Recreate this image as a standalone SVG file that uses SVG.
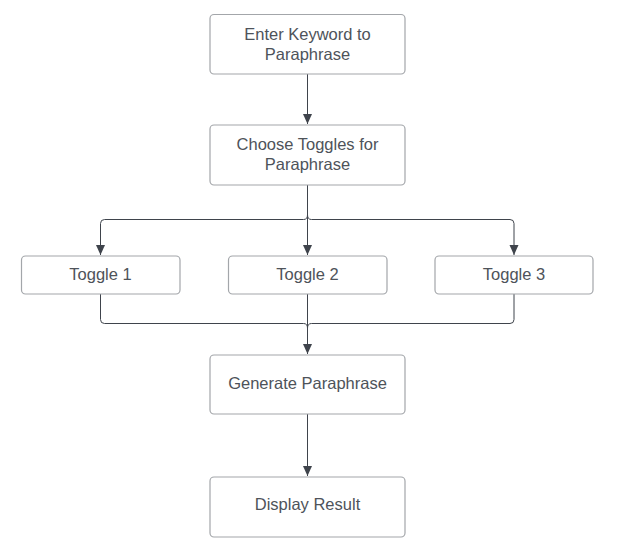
<svg xmlns="http://www.w3.org/2000/svg" width="618" height="549" viewBox="0 0 618 549">
<style>
.box{fill:#ffffff;stroke:#a3a6aa;stroke-width:1.2}
.lbl{font-family:"Liberation Sans",Arial,sans-serif;font-size:16.5px;fill:#4e535a;text-anchor:middle}
.con{fill:none;stroke:#3f444c;stroke-width:1}
</style>
<defs>
<marker id="arr" viewBox="0 0 10 10" refX="10" refY="5" markerWidth="10" markerHeight="10" markerUnits="userSpaceOnUse" orient="auto">
<path d="M0,0.5 L10,5 L0,9.5 Z" fill="#3f444c"/>
</marker>
</defs>
<rect width="618" height="549" fill="#ffffff"/>
<g id="connectors">
<path class="con" d="M307.5,74 V124" marker-end="url(#arr)"/>
<path class="con" d="M307.5,185 V255" marker-end="url(#arr)"/>
<path class="con" d="M307.5,215 Q307.5,219.5 303.5,219.5 H104.5 Q100.5,219.5 100.5,223.5 V255" marker-end="url(#arr)"/>
<path class="con" d="M307.5,215 Q307.5,219.5 311.5,219.5 H510 Q514,219.5 514,223.5 V255" marker-end="url(#arr)"/>
<path class="con" d="M307.5,294 V354" marker-end="url(#arr)"/>
<path class="con" d="M100.5,294 V319.5 Q100.5,323.5 104.5,323.5 H303.5 Q307.5,323.5 307.5,328"/>
<path class="con" d="M514,294 V319.5 Q514,323.5 510,323.5 H311.5 Q307.5,323.5 307.5,328"/>
<path class="con" d="M307.5,414 V476" marker-end="url(#arr)"/>
</g>
<g id="n1"><rect class="box" x="210" y="14.5" width="195" height="59.5" rx="4"/><text class="lbl" x="307.5" y="40">Enter Keyword to</text><text class="lbl" x="307.5" y="60">Paraphrase</text></g>
<g id="n2"><rect class="box" x="210" y="125" width="195" height="60" rx="4"/><text class="lbl" x="307.5" y="150">Choose Toggles for</text><text class="lbl" x="307.5" y="170">Paraphrase</text></g>
<g id="t1"><rect class="box" x="21.5" y="256" width="158.5" height="38" rx="4"/><text class="lbl" x="100.5" y="280">Toggle 1</text></g>
<g id="t2"><rect class="box" x="228.5" y="256" width="158.5" height="38" rx="4"/><text class="lbl" x="307.5" y="280">Toggle 2</text></g>
<g id="t3"><rect class="box" x="435" y="256" width="158" height="38" rx="4"/><text class="lbl" x="514" y="280">Toggle 3</text></g>
<g id="n3"><rect class="box" x="210" y="355" width="195" height="59" rx="4"/><text class="lbl" x="307.5" y="389">Generate Paraphrase</text></g>
<g id="n4"><rect class="box" x="210" y="477" width="195" height="60" rx="4"/><text class="lbl" x="307.5" y="510">Display Result</text></g>
</svg>
